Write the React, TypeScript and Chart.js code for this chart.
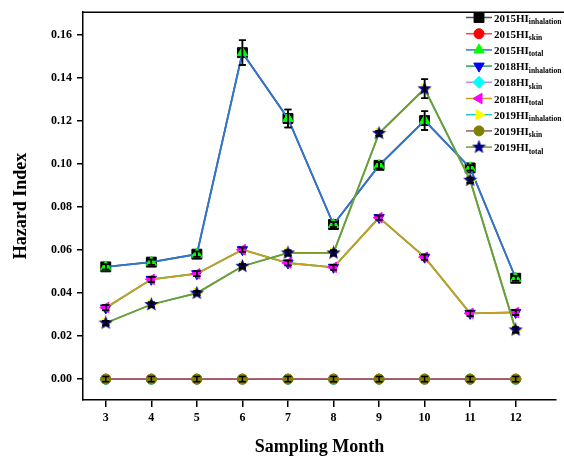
import React, { useEffect, useRef } from "react";
import { Chart, registerables } from "chart.js";
Chart.register(...registerables);

const months = [3, 4, 5, 6, 7, 8, 9, 10, 11, 12];
const yTickValues = [0, 0.02, 0.04, 0.06, 0.08, 0.1, 0.12, 0.14, 0.16];

const hi2015Inhalation = [0.0522, 0.0544, 0.0581, 0.1518, 0.1212, 0.0719, 0.0994, 0.1202, 0.0982, 0.0469];
const hi2015Skin = [0, 0, 0, 0, 0, 0, 0, 0, 0, 0];
const hi2015Total = [0.0522, 0.0544, 0.0581, 0.1518, 0.1212, 0.0719, 0.0994, 0.1202, 0.0982, 0.0469];
const hi2018Inhalation = [0.0331, 0.0464, 0.049, 0.0602, 0.054, 0.052, 0.0751, 0.0567, 0.0306, 0.031];
const hi2018Skin = [0, 0, 0, 0, 0, 0, 0, 0, 0, 0];
const hi2018Total = [0.0333, 0.0464, 0.049, 0.0602, 0.054, 0.052, 0.0751, 0.0567, 0.0306, 0.031];
const hi2019Inhalation = [0.0261, 0.0347, 0.04, 0.0525, 0.0587, 0.0587, 0.1143, 0.135, 0.0925, 0.0229];
const hi2019Skin = [0, 0, 0, 0, 0, 0, 0, 0, 0, 0];
const hi2019Total = [0.0261, 0.0347, 0.04, 0.0525, 0.0587, 0.0587, 0.1143, 0.135, 0.0925, 0.0229];

const err2015 = [0.0012, 0.0012, 0.0012, 0.0058, 0.0042, 0.0012, 0.0015, 0.0044, 0.0012, 0.0012];
const err2018 = [0.0012, 0.0012, 0.0012, 0.0010, 0.0012, 0.0012, 0.0010, 0.0012, 0.0012, 0.0012];
const err2019 = [0.0010, 0.0010, 0.0010, 0.0010, 0.0012, 0.0012, 0.0012, 0.0044, 0.0012, 0.0012];
const errSkin = [0.0012, 0.0012, 0.0012, 0.0012, 0.0012, 0.0012, 0.0012, 0.0012, 0.0012, 0.0012];

const seriesYears = ["2015HI", "2015HI", "2015HI", "2018HI", "2018HI", "2018HI", "2019HI", "2019HI", "2019HI"];
const seriesSubs = ["inhalation", "skin", "total", "inhalation", "skin", "total", "inhalation", "skin", "total"];

const FONT = "'Liberation Serif', 'Times New Roman', serif";

function makeStar(color: string, size: number) {
  const c = document.createElement("canvas");
  c.width = size;
  c.height = size;
  const ctx = c.getContext("2d")!;
  const cx = size / 2, cy = size / 2;
  const R = size / 2, r = R * 0.42;
  ctx.beginPath();
  for (let i = 0; i < 10; i++) {
    const ang = -Math.PI / 2 + (i * Math.PI) / 5;
    const rad = i % 2 === 0 ? R : r;
    const x = cx + rad * Math.cos(ang), y = cy + rad * Math.sin(ang);
    if (i === 0) ctx.moveTo(x, y);
    else ctx.lineTo(x, y);
  }
  ctx.closePath();
  ctx.fillStyle = color;
  ctx.fill();
  return c;
}

export default function App() {
  const ref = useRef<HTMLCanvasElement>(null);
  useEffect(() => {
    document.body.style.margin = "0";
    const star = makeStar("#000080", 15);
    const defs = [
      { data: hi2015Inhalation, line: "#505050", fill: "#000000", style: "rect", rot: 0, r: 7, err: err2015 },
      { data: hi2015Skin, line: "#ff4040", fill: "#ff0000", style: "circle", rot: 0, r: 5, err: null },
      { data: hi2015Total, line: "#2f76d2", fill: "#00ff00", style: "triangle", rot: 0, r: 6, err: err2015 },
      { data: hi2018Inhalation, line: "#2e9a5e", fill: "#0000ff", style: "triangle", rot: 180, r: 6, err: err2018 },
      { data: hi2018Skin, line: "#c088e0", fill: "#00ffff", style: "rectRot", rot: 0, r: 6, err: null },
      { data: hi2018Total, line: "#c8a020", fill: "#ff00ff", style: "triangle", rot: 270, r: 6, err: err2018 },
      { data: hi2019Inhalation, line: "#20c8c8", fill: "#ffff00", style: "triangle", rot: 90, r: 6, err: err2019 },
      { data: hi2019Skin, line: "#a05a5a", fill: "#808000", style: "circle", rot: 0, r: 5, err: errSkin },
      { data: hi2019Total, line: "#789a2a", fill: "#000080", style: star as any, rot: 0, r: 7, err: err2019 },
    ];

    const errorBars = {
      id: "errorBars",
      afterDatasetsDraw(chart: any) {
        const ctx = chart.ctx;
        const ys = chart.scales.y;
        ctx.save();
        ctx.strokeStyle = "#000";
        ctx.lineWidth = 1.5;
        defs.forEach((d, di) => {
          if (!d.err) return;
          const meta = chart.getDatasetMeta(di);
          meta.data.forEach((pt: any, i: number) => {
            const x = pt.x;
            const y1 = ys.getPixelForValue(d.data[i] + d.err![i]);
            const y2 = ys.getPixelForValue(d.data[i] - d.err![i]);
            ctx.beginPath();
            ctx.moveTo(x, y1);
            ctx.lineTo(x, y2);
            ctx.moveTo(x - 3.5, y1);
            ctx.lineTo(x + 3.5, y1);
            ctx.moveTo(x - 3.5, y2);
            ctx.lineTo(x + 3.5, y2);
            ctx.stroke();
          });
        });
        ctx.restore();
      },
    };

    const frameAndLegend = {
      id: "frameAndLegend",
      afterDraw(chart: any) {
        const ctx = chart.ctx;
        const ca = chart.chartArea;
        ctx.save();
        ctx.strokeStyle = "#000";
        ctx.lineWidth = 1.5;
        ctx.beginPath();
        ctx.moveTo(ca.left, ca.top);
        ctx.lineTo(chart.width, ca.top);
        ctx.stroke();
        // legend
        defs.forEach((d, i) => {
          const y = 17.5 + i * 16.2;
          ctx.strokeStyle = d.line;
          ctx.lineWidth = 1.5;
          ctx.beginPath();
          ctx.moveTo(466, y);
          ctx.lineTo(492, y);
          ctx.stroke();
          ctx.fillStyle = d.fill;
          ctx.strokeStyle = d.fill;
          ctx.lineWidth = 1;
          (Chart as any).helpers
            ? null
            : null;
          drawMarker(ctx, d.style, 479, y, d.r, d.rot);
          ctx.fillStyle = "#000";
          ctx.textBaseline = "alphabetic";
          ctx.textAlign = "left";
          ctx.font = "bold 11px " + FONT;
          ctx.fillText(seriesYears[i], 494, y + 4);
          const w = ctx.measureText(seriesYears[i]).width;
          ctx.font = "bold 7.5px " + FONT;
          ctx.fillText(seriesSubs[i], 494 + w, y + 6.5);
        });
        ctx.restore();
      },
    };

    function drawMarker(ctx: CanvasRenderingContext2D, style: any, x: number, y: number, r: number, rot: number) {
      if (typeof style !== "string") {
        ctx.drawImage(style, x - style.width / 2, y - style.height / 2);
        return;
      }
      ctx.save();
      ctx.translate(x, y);
      ctx.rotate((rot * Math.PI) / 180);
      ctx.beginPath();
      if (style === "circle") {
        ctx.arc(0, 0, r, 0, Math.PI * 2);
      } else if (style === "rect") {
        const s = r * Math.SQRT1_2;
        ctx.rect(-s, -s, 2 * s, 2 * s);
      } else if (style === "rectRot") {
        ctx.moveTo(0, -r);
        ctx.lineTo(r, 0);
        ctx.lineTo(0, r);
        ctx.lineTo(-r, 0);
        ctx.closePath();
      } else if (style === "triangle") {
        ctx.moveTo(0, -r);
        ctx.lineTo(r * 0.866, r * 0.5);
        ctx.lineTo(-r * 0.866, r * 0.5);
        ctx.closePath();
      }
      ctx.fill();
      ctx.stroke();
      ctx.restore();
    }

    const chart = new Chart(ref.current!, {
      type: "line",
      data: {
        labels: months,
        datasets: defs.map((d, i) => ({
          label: seriesYears[i] + seriesSubs[i],
          data: months.map((m, j) => ({ x: m, y: d.data[j] })),
          borderColor: d.line,
          backgroundColor: d.fill,
          pointBackgroundColor: d.fill,
          pointBorderColor: d.fill,
          pointBorderWidth: 1,
          pointStyle: d.style,
          pointRotation: d.rot,
          pointRadius: d.r,
          borderWidth: 1.8,
          tension: 0,
          order: 9 - i,
        })),
      },
      options: {
        responsive: false,
        animation: false,
        devicePixelRatio: 1,
        layout: { padding: { top: 9, right: 0, left: 0, bottom: 0 } },
        plugins: { legend: { display: false }, tooltip: { enabled: false } },
        scales: {
          x: {
            type: "linear",
            min: 2.5,
            max: 12.885,
            afterBuildTicks: (s: any) => {
              s.ticks = months.map((v) => ({ value: v }));
            },
            afterFit: (s: any) => {
              s.height = 59;
            },
            grid: { display: true, drawOnChartArea: false, drawTicks: true, tickLength: 7, color: "#000", lineWidth: 1.5 },
            border: { display: true, color: "#000", width: 1.5 },
            ticks: {
              color: "#000",
              padding: 4,
              maxRotation: 0,
              font: { family: FONT, size: 12, weight: "bold" },
              callback: (v: any) => String(v),
            },
            title: {
              display: true,
              text: "Sampling Month",
              color: "#000",
              font: { family: FONT, size: 18, weight: "bold" },
              padding: { top: 0, bottom: 1 },
            },
          },
          y: {
            type: "linear",
            min: -0.0097,
            max: 0.1706,
            afterBuildTicks: (s: any) => {
              s.ticks = yTickValues.map((v) => ({ value: v }));
            },
            afterFit: (s: any) => {
              s.width = 83;
            },
            grid: { display: true, drawOnChartArea: false, drawTicks: true, tickLength: 6, color: "#000", lineWidth: 1.5 },
            border: { display: true, color: "#000", width: 1.5 },
            ticks: {
              color: "#000",
              padding: 5,
              font: { family: FONT, size: 12, weight: "bold" },
              callback: (v: any) => Number(v).toFixed(2),
            },
            title: {
              display: true,
              text: "Hazard Index",
              color: "#000",
              font: { family: FONT, size: 18, weight: "bold" },
              padding: { top: 11, bottom: 0 },
            },
          },
        },
      },
      plugins: [errorBars, frameAndLegend],
    } as any);
    return () => chart.destroy();
  }, []);
  return (
    <div style={{ width: 564, height: 459, position: "relative" }}>
      <canvas ref={ref} width={564} height={459} style={{ display: "block" }} />
    </div>
  );
}
